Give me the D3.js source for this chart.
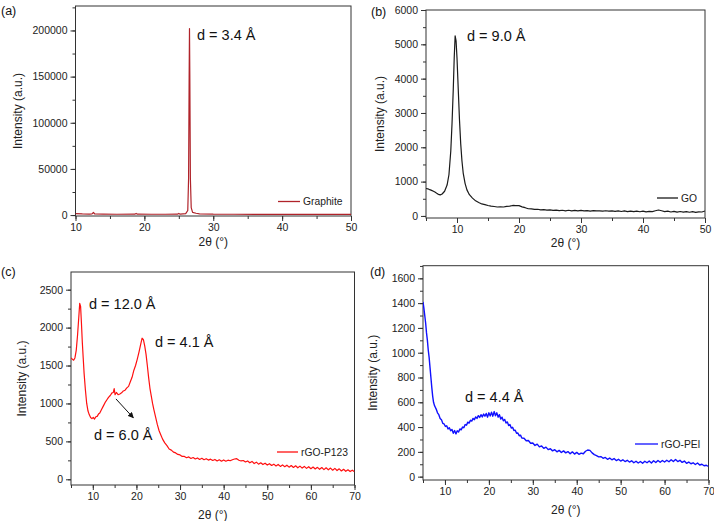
<!DOCTYPE html>
<html><head><meta charset="utf-8">
<script src="https://cdn.jsdelivr.net/npm/d3@7"></script>
<style>html,body{margin:0;padding:0;background:#fff;}svg{display:block;font-family:Arial,"Liberation Sans",sans-serif;}</style>
</head><body>
<svg id="chart" width="714" height="521"></svg>
<script>
// ---- data (2θ in degrees, intensity in a.u.) ----
const graphite = [[10,1500],[11,1200],[12,1100],[12.4,1300],[12.6,2800],[12.8,1200],[14,1000],[16,900],[18.6,1000],[18.8,1800],[19,1000],[21,900],[23,900],[24.8,1000],[25,1800],[25.2,1000],[26,1500],[26.3,5000],[26.42,40000],[26.5,150000],[26.55,202000],[26.6,150000],[26.68,40000],[26.8,8000],[27,3000],[27.5,2000],[28,1400],[30,1000],[33,900],[36,800],[40,800],[45,700],[50,700]];
const go = [[5,800],[5.3,790],[5.6,765],[5.9,745],[6.2,720],[6.5,690],[6.8,650],[7,630],[7.3,615],[7.6,640],[8,720],[8.4,900],[8.7,1200],[9,1900],[9.2,2700],[9.4,3700],[9.55,4600],[9.7,5250],[9.85,5100],[10,4600],[10.2,3700],[10.4,2800],[10.6,2100],[10.8,1600],[11,1250],[11.3,950],[11.6,760],[12,620],[12.5,520],[13,440],[13.5,390],[14,350],[14.5,330],[15,305],[15.5,285],[16,275],[16.5,260],[17,265],[17.5,260],[18,280],[18.5,285],[19,305],[19.5,300],[20,300],[20.5,265],[21,240],[21.5,210],[22,205],[22.5,190],[23,195],[23.5,175],[24,185],[24.5,170],[25,175],[25.5,160],[26,170],[26.5,155],[27,165],[27.5,150],[28,165],[28.5,150],[29,160],[29.5,145],[30,160],[30.5,145],[31,155],[31.5,140],[32,155],[32.5,145],[33,150],[33.5,138],[34,152],[34.5,140],[35,148],[35.5,135],[36,150],[36.5,130],[37,145],[37.5,128],[38,142],[38.5,125],[39,140],[39.5,122],[40,138],[40.5,120],[41,135],[41.5,125],[42,150],[42.5,172],[43,150],[43.5,128],[44,138],[44.5,115],[45,135],[45.5,112],[46,130],[46.5,110],[47,128],[47.5,108],[48,125],[48.5,105],[49,120],[49.5,115],[50,145]];
const p123 = [[5,1600],[5.3,1585],[5.6,1570],[5.9,1600],[6.2,1700],[6.5,1900],[6.8,2150],[7,2320],[7.2,2280],[7.4,2050],[7.6,1800],[7.8,1600],[8,1400],[8.3,1180],[8.6,1000],[8.9,900],[9.2,850],[9.5,815],[9.8,800],[10.1,815],[10.4,795],[10.7,825],[11,830],[11.3,860],[11.6,875],[12,920],[12.4,965],[12.8,1010],[13.2,1045],[13.6,1080],[14,1105],[14.4,1140],[14.7,1145],[14.9,1195],[15.1,1115],[15.4,1145],[15.8,1115],[16.2,1125],[16.6,1140],[17,1165],[17.4,1175],[17.8,1205],[18.2,1225],[18.6,1285],[19,1345],[19.4,1435],[19.8,1500],[20.2,1585],[20.6,1680],[21,1785],[21.3,1860],[21.6,1840],[21.9,1760],[22.2,1650],[22.5,1500],[22.8,1340],[23.1,1200],[23.4,1100],[23.7,1000],[24,920],[24.4,820],[24.8,720],[25.2,640],[25.6,585],[26,530],[26.5,480],[27,445],[27.5,400],[28,385],[28.5,358],[29,348],[29.5,328],[30,322],[30.5,302],[31,302],[31.5,285],[32,295],[32.5,275],[33,287],[33.5,268],[34,282],[34.5,262],[35,277],[35.5,258],[36,272],[36.5,253],[37,266],[37.5,248],[38,262],[38.5,242],[39,258],[39.5,238],[40,256],[40.5,238],[41,252],[41.5,245],[42,258],[42.5,268],[43,272],[43.5,252],[44,242],[44.5,248],[45,228],[45.5,242],[46,218],[46.5,236],[47,208],[47.5,226],[48,200],[48.5,218],[49,195],[49.5,212],[50,188],[50.5,206],[51,182],[51.5,200],[52,176],[52.5,196],[53,170],[53.5,190],[54,166],[54.5,186],[55,160],[55.5,182],[56,156],[56.5,178],[57,152],[57.5,174],[58,148],[58.5,170],[59,144],[59.5,166],[60,140],[60.5,162],[61,136],[61.5,158],[62,132],[62.5,155],[63,128],[63.5,152],[64,125],[64.5,148],[65,120],[65.5,144],[66,116],[66.5,138],[67,110],[67.5,132],[68,106],[68.5,126],[69,102],[69.5,120],[70,100]];
const pei = [[5,1410],[5.2,1360],[5.4,1300],[5.6,1240],[5.8,1160],[6,1100],[6.2,1020],[6.4,960],[6.6,880],[6.8,800],[7,720],[7.2,650],[7.4,600],[7.6,575],[7.8,560],[8,545],[8.3,515],[8.6,500],[8.9,470],[9.2,460],[9.5,430],[9.8,425],[10.1,405],[10.4,410],[10.7,385],[11,395],[11.3,370],[11.6,380],[11.9,350],[12.2,372],[12.5,345],[12.8,370],[13.1,360],[13.4,385],[13.7,378],[14,400],[14.3,395],[14.6,420],[14.9,415],[15.2,440],[15.5,432],[15.8,455],[16.1,448],[16.4,470],[16.7,460],[17,482],[17.3,470],[17.6,492],[17.9,478],[18.2,500],[18.5,482],[18.8,505],[19.1,488],[19.4,510],[19.7,480],[20,515],[20.3,490],[20.6,520],[20.9,488],[21.2,525],[21.5,492],[21.8,515],[22.1,480],[22.4,500],[22.7,465],[23,480],[23.3,450],[23.6,462],[23.9,432],[24.2,442],[24.5,412],[24.8,420],[25.1,392],[25.4,398],[25.7,372],[26,375],[26.3,350],[26.6,352],[26.9,330],[27.2,335],[27.5,312],[28,310],[28.5,290],[29,292],[29.5,270],[30,272],[30.5,252],[31,262],[31.5,240],[32,248],[32.5,228],[33,238],[33.5,218],[34,225],[34.5,208],[35,218],[35.5,200],[36,212],[36.5,195],[37,208],[37.5,192],[38,202],[38.5,185],[39,200],[39.5,182],[40,196],[40.5,180],[41,190],[41.5,185],[42,205],[42.5,215],[43,212],[43.5,192],[44,178],[44.5,170],[45,160],[45.5,162],[46,148],[46.5,155],[47,140],[47.5,150],[48,136],[48.5,146],[49,130],[49.5,140],[50,126],[50.5,136],[51,122],[51.5,132],[52,118],[52.5,128],[53,112],[53.5,124],[54,110],[54.5,122],[55,108],[55.5,124],[56,112],[56.5,126],[57,110],[57.5,128],[58,114],[58.5,130],[59,116],[59.5,130],[60,118],[60.5,132],[61,120],[61.5,136],[62,122],[62.5,138],[63,122],[63.5,132],[64,115],[64.5,126],[65,108],[65.5,118],[66,104],[66.5,112],[67,98],[67.5,110],[68,94],[68.5,100],[69,88],[69.5,92],[70,82]];

// tick values
const xTicksA = [10,20,30,40,50];
const yTicksA = [0,50000,100000,150000,200000];
const xTicksB = [10,20,30,40,50];
const yTicksB = [0,1000,2000,3000,4000,5000,6000];
const xTicksC = [10,20,30,40,50,60,70];
const yTicksC = [0,500,1000,1500,2000,2500];
const xTicksD = [10,20,30,40,50,60,70];
const yTicksD = [0,200,400,600,800,1000,1200,1400,1600];

const svg = d3.select("#chart");

function panel(cfg){
  const g = svg.append("g");
  const x = d3.scaleLinear().domain(cfg.xd).range([cfg.l, cfg.r]);
  const y = d3.scaleLinear().domain(cfg.yd).range([cfg.b, cfg.t]);
  const id = "clip" + cfg.name;
  svg.append("clipPath").attr("id", id).append("rect")
    .attr("x", cfg.l).attr("y", cfg.t).attr("width", cfg.r - cfg.l).attr("height", cfg.b - cfg.t);

  // minor ticks
  const xMinor = d3.range(cfg.xd[0], cfg.xd[1] + 0.001, cfg.xMinor).filter(v => v >= cfg.xd[0]);
  const yMinor = d3.range(0, cfg.yd[1] + 0.001, cfg.yMinor);
  // axes via d3
  const xAxis = d3.axisBottom(x).tickValues(cfg.xt).tickSize(5).tickPadding(3).tickFormat(d3.format("d"));
  const yAxis = d3.axisLeft(y).tickValues(cfg.yt).tickSize(5).tickPadding(3).tickFormat(d3.format("d"));
  const xMinorAxis = d3.axisBottom(x).tickValues(xMinor).tickSize(3).tickFormat("");
  const yMinorAxis = d3.axisLeft(y).tickValues(yMinor).tickSize(3).tickFormat("");
  [ [xMinorAxis,"x"],[yMinorAxis,"y"],[xAxis,"x"],[yAxis,"y"] ].forEach(([ax,k])=>{
    const a = g.append("g")
      .attr("transform", k==="x" ? `translate(0,${cfg.b})` : `translate(${cfg.l},0)`)
      .call(ax);
    a.select(".domain").remove();
    a.selectAll("line").attr("stroke","#333").attr("stroke-width",1);
    a.selectAll("text").attr("fill","#222").style("font-size","10.5px").style("font-family","Arial, 'Liberation Sans', sans-serif");
  });
  // frame
  g.append("rect").attr("x",cfg.l).attr("y",cfg.t).attr("width",cfg.r-cfg.l).attr("height",cfg.b-cfg.t)
    .attr("fill","none").attr("stroke","#333").attr("stroke-width",1);

  // curve
  const line = d3.line().x(d => x(d[0])).y(d => y(d[1]));
  g.append("path").datum(cfg.data).attr("clip-path", `url(#${id})`)
    .attr("d", line).attr("fill","none").attr("stroke",cfg.color).attr("stroke-width",cfg.sw || 1.2)
    .attr("stroke-linejoin","round");

  // legend
  g.append("line").attr("x1",cfg.leg[0]).attr("x2",cfg.leg[0]+cfg.leg[3]).attr("y1",cfg.leg[1]).attr("y2",cfg.leg[1])
    .attr("stroke",cfg.color).attr("stroke-width",1.3);
  g.append("text").attr("x",cfg.leg[0]+cfg.leg[3]+3).attr("y",cfg.leg[1]+3.6).text(cfg.leg[2])
    .style("font-size","10.3px").attr("fill","#222");

  // axis titles
  g.append("text").attr("transform",`translate(${cfg.ylx},${(cfg.t+cfg.b)/2}) rotate(-90)`)
    .attr("text-anchor","middle").attr("dy","0.35em").text("Intensity (a.u.)")
    .style("font-size","12px").attr("fill","#222");
  g.append("text").attr("x",(cfg.l+cfg.r)/2).attr("y",cfg.xly).attr("text-anchor","middle").attr("dy","0.35em")
    .text("2θ (°)").style("font-size","12px").attr("fill","#222");
  // panel letter
  g.append("text").attr("x",cfg.pl[0]).attr("y",cfg.pl[1]).attr("dy","0.35em").text(cfg.pl[2])
    .style("font-size","12.5px").attr("fill","#111");
  // annotations
  (cfg.notes||[]).forEach(n=>{
    g.append("text").attr("x",n[0]).attr("y",n[1]).attr("dy","0.35em").text(n[2])
      .style("font-size","14.5px").attr("fill","#111");
  });
  return {g,x,y};
}

panel({name:"a", l:75.5, r:351, t:6, b:216, xd:[10,50], yd:[-1000,226500], xt:xTicksA, yt:yTicksA, xMinor:5, yMinor:25000,
  data:graphite, color:"#b0232a", leg:[278,201.5,"Graphite",22], ylx:18, xly:242, pl:[1,11,"(a)"],
  notes:[[197,35,"d = 3.4 Å"]]});
panel({name:"b", l:426, r:705, t:10, b:218, xd:[5,50], yd:[-60,6000], xt:xTicksB, yt:yTicksB, xMinor:5, yMinor:500,
  data:go, color:"#1a1a1a", leg:[657,198,"GO",21], ylx:380, xly:243, pl:[371,12,"(b)"],
  notes:[[467,36,"d = 9.0 Å"]]});
const pc = panel({name:"c", l:71, r:354.5, t:272, b:485, xd:[5,70], yd:[-75,2733], xt:xTicksC, yt:yTicksC, xMinor:5, yMinor:250,
  data:p123, color:"#ff1010", leg:[277,452,"rGO-P123",21], ylx:22, xly:515, pl:[1,272,"(c)"],
  notes:[[89,304,"d = 12.0 Å"],[155,342,"d = 4.1 Å"],[94,435,"d = 6.0 Å"]]});
panel({name:"d", l:423, r:708.5, t:265.7, b:480, xd:[5,70], yd:[-27,1702], xt:xTicksD, yt:yTicksD, xMinor:5, yMinor:100,
  data:pei, color:"#1010ff", sw:1.4, leg:[635,444,"rGO-PEI",23], ylx:373, xly:510, pl:[370,272,"(d)"],
  notes:[[465,397,"d = 4.4 Å"]]});

// arrow in (c)
svg.append("defs").append("marker").attr("id","arr").attr("viewBox","0 0 10 10").attr("refX",9).attr("refY",5)
  .attr("markerWidth",6).attr("markerHeight",6).attr("orient","auto")
  .append("path").attr("d","M0,0L10,5L0,10z").attr("fill","#111");
svg.append("line").attr("x1",pc.x(15.3)).attr("y1",pc.y(1060)).attr("x2",pc.x(19.3)).attr("y2",pc.y(810))
  .attr("stroke","#111").attr("stroke-width",1).attr("marker-end","url(#arr)");
</script>
</body></html>
